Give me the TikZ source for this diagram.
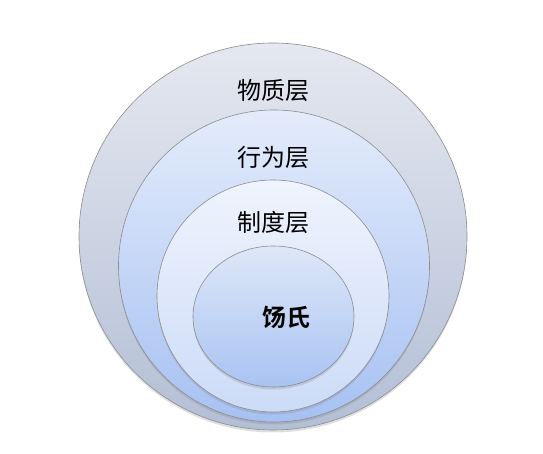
\documentclass[tikz,border=0pt]{standalone}
\usepackage{fontspec}
\setmainfont{Noto Sans CJK SC}[BoldFont={Noto Sans CJK SC Bold}]
\usetikzlibrary{shapes.geometric,shadows}

\definecolor{wuzhiTop}{HTML}{E5E8F0}
\definecolor{wuzhiBot}{HTML}{B3BFD6}
\definecolor{xingweiTop}{HTML}{E4ECFB}
\definecolor{xingweiBot}{HTML}{A6C1F2}
\definecolor{zhiduTop}{HTML}{EFF4FD}
\definecolor{zhiduBot}{HTML}{CCDBF7}
\definecolor{coreTop}{HTML}{DEE7F8}
\definecolor{coreBot}{HTML}{A9C3F2}

\begin{document}
\begin{tikzpicture}[x=1pt,y=1pt]
   \tikzstyle{layer}=[draw=gray!90, line width=0.6pt, ellipse, inner sep=0pt, drop shadow={shadow xshift=0pt, shadow yshift=-2.5pt, opacity=0.25}]
   \tikzstyle{every node}=[font=\fontsize{24}{24}\selectfont]

\useasboundingbox (0,0) rectangle (543,454);

\node[layer, minimum width=388, minimum height=387, top color=wuzhiTop, bottom color=wuzhiBot] (wuzhi) at (273,217.5) {};
\node[layer, minimum width=311, minimum height=312, top color=xingweiTop, bottom color=xingweiBot] (xingwei) at (274,188) {};
\node[layer, minimum width=232, minimum height=232, top color=zhiduTop, bottom color=zhiduBot] (zhidu) at (273,158) {};
\node[layer, minimum width=161, minimum height=141, top color=coreTop, bottom color=coreBot] (core) at (273.5,137.5) {};

\node[inner sep=0pt] (wuzhiText) at (273,364) {物质层};
\node[inner sep=0pt] (xingweiText) at (273,297) {行为层};
\node[inner sep=0pt] (zhiduText) at (273,232) {制度层};
\node[inner sep=0pt, font=\fontsize{24}{24}\selectfont\bfseries] (coreText) at (286,137) {饧氏};

\end{tikzpicture}
\end{document}
